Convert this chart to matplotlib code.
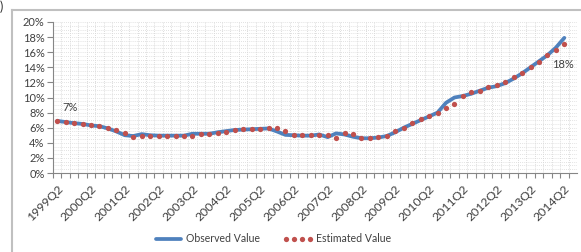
import numpy as np
import matplotlib
matplotlib.use('Agg')
import matplotlib.pyplot as plt
from matplotlib.lines import Line2D
from matplotlib.ticker import FixedLocator, FuncFormatter, MultipleLocator

"""
data
"""
years = list(range(1999, 2015))
quarters = []
for y in years:
    for q in ['Q1', 'Q2', 'Q3', 'Q4']:
        quarters.append('{}{}'.format(y, q))
quarters = quarters[quarters.index('1999Q2'):quarters.index('2014Q2') + 1]

observed = [6.9, 6.75, 6.6, 6.5, 6.3, 6.2, 5.9, 5.5, 5.0, 4.9, 5.15, 5.0, 4.95, 4.95, 4.95, 4.95,
            5.2, 5.2, 5.2, 5.4, 5.55, 5.7, 5.75, 5.8, 5.85, 5.9, 5.5, 5.05, 5.0, 4.95, 4.95, 5.1,
            4.75, 5.25, 5.1, 4.8, 4.6, 4.6, 4.7, 4.9, 5.4, 6.0, 6.5, 7.0, 7.5, 8.0, 9.3, 10.0,
            10.2, 10.5, 10.9, 11.3, 11.5, 11.9, 12.5, 13.2, 14.0, 14.8, 15.6, 16.6, 17.9]
estimated = [6.95, 6.7, 6.6, 6.5, 6.3, 6.2, 5.9, 5.7, 5.3, 4.8, 4.9, 4.9, 4.9, 4.9, 4.9, 4.85,
             4.95, 5.2, 5.2, 5.25, 5.45, 5.65, 5.8, 5.85, 5.85, 5.9, 5.9, 5.6, 5.05, 5.0, 5.0, 5.0,
             5.05, 4.7, 5.3, 5.1, 4.7, 4.7, 4.75, 4.95, 5.5, 6.0, 6.6, 7.1, 7.5, 8.0, 8.6, 9.1,
             10.2, 10.7, 10.9, 11.4, 11.6, 12.1, 12.7, 13.3, 14.1, 14.7, 15.6, 16.3, 17.1]
yticks = list(range(0, 21, 2))

"""
plot
"""
plt.rcParams['font.family'] = ['Lato', 'DejaVu Sans']
txtcol = '#404040'

fig = plt.figure(figsize=(5.81, 2.52), dpi=100)
ax = fig.add_axes([53 / 581, 1 - 173 / 252, 524 / 581, 151 / 252])

x = np.arange(len(quarters))
ax.plot(x, observed, color='#4F81BD', lw=2.7, solid_capstyle='round',
        solid_joinstyle='round', label='Observed Value', zorder=3)
ax.plot(x, estimated, color='#C0504D', ls='none', marker='o', ms=3.8,
        mew=0, label='Estimated Value', zorder=4)

ax.set_xlim(-0.5, 61.5)
ax.set_ylim(0, 20)

# category axis: labels every 4 quarters, ticks between categories
ax.xaxis.set_major_locator(FixedLocator(x[::4]))
ax.xaxis.set_major_formatter(FuncFormatter(lambda v, p: quarters[int(round(v))]))
ax.xaxis.set_minor_locator(FixedLocator(np.arange(-0.5, len(quarters), 1.0)))
ax.tick_params(axis='x', which='major', length=0, pad=7, labelsize=8.8, labelcolor=txtcol)
ax.tick_params(axis='x', which='minor', length=3.5, width=0.8, color='#868686')
for lab in ax.get_xticklabels():
    lab.set_rotation(45)
    lab.set_ha('right')
    lab.set_rotation_mode('anchor')

ax.set_yticks(yticks)
ax.yaxis.set_major_formatter(FuncFormatter(lambda v, p: '{:d}%'.format(int(v))))
ax.yaxis.set_minor_locator(MultipleLocator(0.5))
ax.tick_params(axis='y', which='major', length=4, width=0.8, color='#868686',
               labelsize=8, labelcolor=txtcol, pad=2)
ax.tick_params(axis='y', which='minor', length=0)

ax.grid(which='minor', axis='x', color='#d0d0d0', lw=0.6, ls=(0, (1, 1.5)))
ax.grid(which='both', axis='y', color='#d8d8d8', lw=0.6, ls=(0, (1, 1.5)))
ax.set_axisbelow(True)

for s in ['top', 'right']:
    ax.spines[s].set_visible(False)
ax.spines['left'].set_color('#868686')
ax.spines['bottom'].set_color('#868686')
ax.spines['left'].set_linewidth(0.8)
ax.spines['bottom'].set_linewidth(0.8)

ax.annotate('7%', (x[0], observed[0]), xytext=(9, 10), textcoords='offset points',
            ha='center', va='center', fontsize=8, color=txtcol)
ax.annotate('18%', (x[-1], observed[-1]), xytext=(-1, -19), textcoords='offset points',
            ha='center', va='center', fontsize=8, color=txtcol)

fig.legend(loc='center', bbox_to_anchor=(272 / 581, 1 - 239 / 252), ncol=2,
           frameon=False, fontsize=7.6, numpoints=4, handlelength=2.9,
           columnspacing=2.2, handletextpad=0.2, labelcolor=txtcol)

# chart area border and cut-off label at top-left
fig.add_artist(Line2D([12 / 581, 12 / 581], [0, 1 - 10 / 252], color='#c0c0c0', lw=1.5))
fig.add_artist(Line2D([12 / 581, 1], [1 - 10 / 252, 1 - 10 / 252], color='#c0c0c0', lw=1.5))
fig.text(0.0, 1.0, ')', ha='left', va='top', fontsize=9, color='#333333')

plt.savefig('out.png', dpi=100)
plt.close()
